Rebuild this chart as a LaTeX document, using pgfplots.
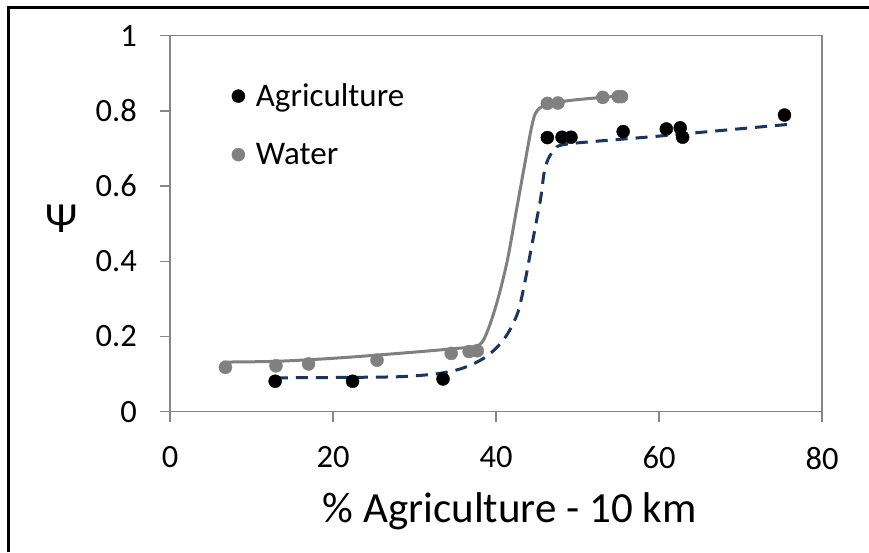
\documentclass[border=0pt]{standalone}
\usepackage{fontspec}
\setmainfont{Carlito}
\usepackage{pgfplots}
\pgfplotsset{compat=1.18}
\definecolor{axgray}{HTML}{868686}
\definecolor{ptgray}{HTML}{808080}
\definecolor{navy}{HTML}{17375E}
\begin{document}
\begin{tikzpicture}
\path[use as bounding box] (0,0) rectangle (869pt,552pt);
\fill[white] (0,0) rectangle (869pt,552pt);
\draw[line width=3pt] (8.5pt,0pt) -- (8.5pt,544.5pt) -- (869pt,544.5pt);
\begin{axis}[
  at={(170pt,140.3pt)}, anchor=south west,
  scale only axis, width=652pt, height=376pt,
  xmin=0, xmax=80, ymin=0, ymax=1,
  xtick={0,20,40,60,80}, ytick={0,0.2,0.4,0.6,0.8,1},
  axis line style={axgray, line width=1.2pt},
  xtick style={draw=axgray, line width=1.3pt},
  ytick style={draw=axgray, line width=1.3pt},
  tick align=outside,
  major tick length=10pt,
  xtick pos=bottom, ytick pos=left,
  /pgf/number format/assume math mode=true,
  ticklabel style={font=\fontsize{32.5}{38}\selectfont, text=black},
  yticklabel style={anchor=east, inner sep=0pt, xshift=-23pt},
  xticklabel style={anchor=north, inner sep=0pt, yshift=-25pt},
  xlabel={\% Agriculture - 10 km},
  xlabel style={at={(axis description cs:0.521,0)}, anchor=base, yshift=-111pt, font=\fontsize{43}{50}\selectfont},
  ylabel={Ψ},
  every axis y label/.style={at={(axis description cs:-0.1656,0.5125)}, anchor=center, font=\fontsize{43}{50}\selectfont},
  legend style={at={(axis description cs:0.09,0.883)}, anchor=north west, draw=none, fill=none,
    font=\fontsize{33}{40}\selectfont, row sep=31pt,
    /tikz/every odd column/.append style={column sep=9pt}},
  legend cell align=left,
  legend image code/.code={\draw[#1] plot coordinates {(0pt,0pt)};},
]
\addplot[ptgray, line width=3pt, smooth, tension=0.5, forget plot] coordinates {
(6.5,0.132) (13,0.134) (20,0.142) (28,0.155) (35,0.168) (37.9,0.177)
(39.0,0.217) (40.2,0.297) (41.4,0.403) (42.5,0.535) (43.5,0.655) (44.3,0.75)
(44.8,0.792) (45.4,0.808) (46.3,0.817) (48.8,0.827) (52,0.834) (55.4,0.84)};
\addplot[navy, line width=3pt, dash pattern=on 12pt off 8pt, smooth, tension=0.5, forget plot] coordinates {
(13,0.09) (20,0.091) (28,0.093) (32.4,0.10) (35,0.11) (36.9,0.124) (38.7,0.145)
(40.2,0.173) (41.5,0.21) (42.7,0.265) (43.5,0.34) (44.2,0.42) (44.9,0.5)
(45.5,0.57) (45.9,0.635) (46.4,0.672) (47.2,0.696) (48.8,0.712) (60,0.733) (76.3,0.765)};
\addplot[only marks, mark=*, mark size=6.5pt, black] coordinates {
(12.9,0.081) (22.4,0.081) (33.5,0.087) (46.3,0.729) (48.1,0.73) (49.2,0.73)
(55.6,0.745) (60.9,0.752) (62.6,0.755) (62.9,0.73) (75.4,0.789)};
\addlegendentry{Agriculture}
\addplot[only marks, mark=*, mark size=6.5pt, ptgray, mark options={draw=ptgray, fill=ptgray}] coordinates {
(6.8,0.118) (13.0,0.122) (17.0,0.127) (25.4,0.137) (34.5,0.155) (36.7,0.16)
(37.7,0.162) (46.3,0.82) (47.6,0.821) (53.1,0.836) (55.0,0.838) (55.4,0.838)};
\addlegendentry{Water}
\end{axis}
\end{tikzpicture}
\end{document}
